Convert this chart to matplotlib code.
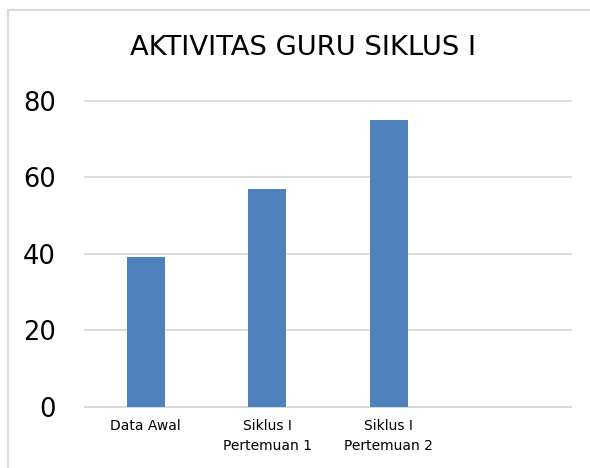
import matplotlib
matplotlib.use("Agg")
import matplotlib.pyplot as plt
from matplotlib.lines import Line2D

# data
categories = ["Data Awal", "Siklus I\nPertemuan 1", "Siklus I\nPertemuan 2", ""]
values = [39.1, 57, 75, None]
y_ticks = [0, 20, 40, 60, 80]
title = "AKTIVITAS GURU SIKLUS I"

plt.rcParams["font.family"] = ["DejaVu Sans"]

fig = plt.figure(figsize=(5.9, 4.68), dpi=100)
ax = fig.add_axes([85 / 590, 61.3 / 468, 486 / 590, 306 / 468])

xs = list(range(len(categories)))
bar_x = [x for x, v in zip(xs, values) if v is not None]
bar_v = [v for v in values if v is not None]
ax.bar(bar_x, bar_v, width=0.31, color="#4f81bd", zorder=3)

ax.set_xlim(-0.5, len(categories) - 0.5)
ax.set_ylim(0, 80)
ax.set_yticks(y_ticks)
ax.set_xticks(xs)
ax.set_xticklabels(categories, fontsize=10, linespacing=1.5)
ax.tick_params(axis="x", length=0, pad=9)
ax.tick_params(axis="y", length=0, pad=21, labelsize=18.5)

ax.grid(axis="y", color="#d9d9d9", linewidth=1.3, zorder=0)
for gl in ax.yaxis.get_gridlines():
    gl.set_clip_on(False)
for side in ("top", "right", "left"):
    ax.spines[side].set_visible(False)
ax.spines["bottom"].set_color("#d9d9d9")
ax.spines["bottom"].set_linewidth(1.3)

fig.text(303 / 590, 1 - 48 / 468, title, fontsize=19.7, ha="center", va="center")

# chart frame: only its top and left edges fall inside the image
fx, fy = 7.5 / 590, 1 - 10 / 468
fig.add_artist(Line2D([fx, fx], [0, fy], transform=fig.transFigure,
                      color="#d9d9d9", linewidth=1.5))
fig.add_artist(Line2D([fx, 1], [fy, fy], transform=fig.transFigure,
                      color="#d9d9d9", linewidth=1.5))

fig.savefig("out.png", dpi=100)
